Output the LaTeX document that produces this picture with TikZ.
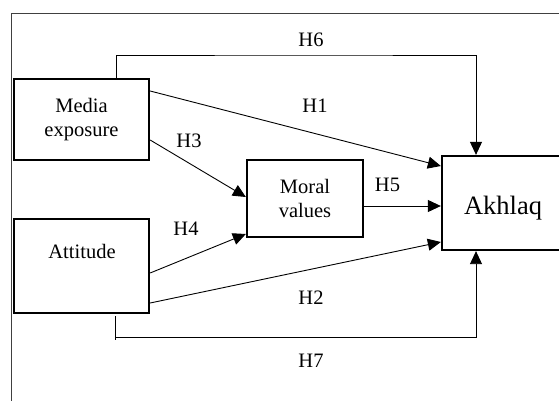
\documentclass[tikz,border=0pt]{standalone}
\usepackage{fontspec}
\setmainfont{Liberation Serif}
\usetikzlibrary{arrows.meta,calc}
\begin{document}
\begin{tikzpicture}[x=1pt,y=-1pt,
  box/.style={draw,line width=2.3pt,inner sep=0pt,align=center,
    font=\fontsize{20.5}{24.5}\selectfont},
  lbl/.style={anchor=base,inner sep=0pt,font=\fontsize{20.5}{24.5}\selectfont},
  conn/.style={line width=0.9pt,-{Triangle[length=13pt,width=12pt]}},
  frameline/.style={line width=0.9pt,draw=black!75}]
\useasboundingbox (0,0) rectangle (559,401);
\clip (0,0) rectangle (559,401);
\fill[white] (0,0) rectangle (559,401);
% frame
\coordinate (fa) at (11,401);
\coordinate (fb) at (11,13);
\coordinate (fc) at (562,13);
\draw[frameline] (fa) -- (fb) -- (fc);
% boxes
\node[box,minimum width=135pt,minimum height=81pt] (media) at (81.5,119.5) {Media\\exposure};
\node[box,minimum width=135pt,minimum height=94pt] (att) at (81.5,266) {};
\node[lbl] (attl) at (82,258) {Attitude};
\node[box,minimum width=116pt,minimum height=77pt] (moral) at (305,198.5) {Moral\\values};
\node[box,minimum width=128pt,minimum height=94pt] (akh) at (506,203) {};
\node[lbl,font=\fontsize{26.5}{30}\selectfont] (akhl) at (503,214) {Akhlaq};
% connectors
\draw[conn] ($(media.east)+(0,-28.5)$) -- ($(akh.west)+(0,-37)$);
\draw[conn] ($(media.east)+(0,20.5)$) -- ($(moral.west)+(0,-1.5)$);
\draw[conn] ($(moral.east)+(0,7.5)$) -- ($(akh.west)+(0,3)$);
\draw[conn] ($(att.east)+(0,7)$) -- ($(moral.west)+(0,35.5)$);
\draw[conn] ($(att.east)+(0,37)$) -- ($(akh.west)+(0,39)$);
\draw[conn] ($(media.north)+(34.5,0)$) |- (311,55) -| ($(akh.north)+(-30,0)$);
\coordinate (h7a) at (115,316);
\coordinate (h7b) at (115,340);
\draw[line width=0.9pt] (h7a) -- (h7b);
\draw[conn] (115,337) -| ($(akh.south)+(-30,0)$);
% labels
\node[lbl] (h6) at (311,47) {H6};
\node[lbl] (h1) at (315,113) {H1};
\node[lbl] (h3) at (189,147) {H3};
\node[lbl] (h5) at (387.5,191) {H5};
\node[lbl] (h4) at (186,235) {H4};
\node[lbl] (h2) at (311,304) {H2};
\node[lbl] (h7) at (311,367) {H7};
\end{tikzpicture}
\end{document}
